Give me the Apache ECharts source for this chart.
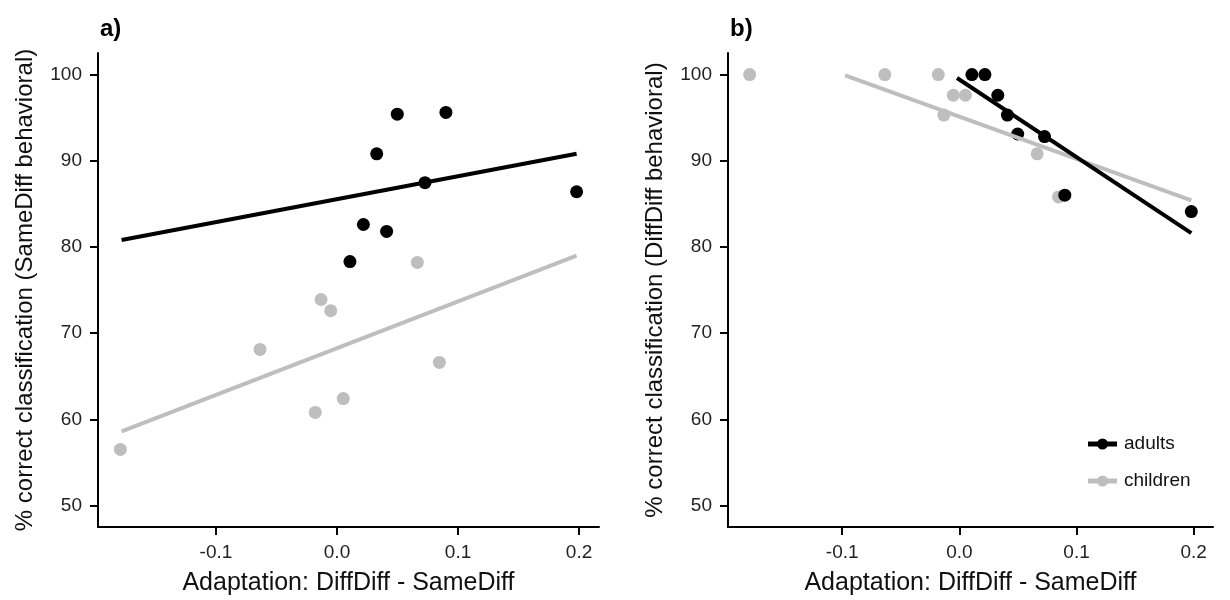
<!DOCTYPE html>
<html>
<head>
<meta charset="utf-8">
<script src="https://cdn.jsdelivr.net/npm/echarts@6/dist/echarts.min.js"></script>
<style>
  html, body { margin: 0; padding: 0; background: #fff; }
  #chart { width: 1230px; height: 600px; }
</style>
</head>
<body>
<div id="chart"></div>
<script>
// x values (adaptation) shared by both panels
var childX = [-0.179, -0.0636, -0.018, -0.0132, -0.0052, 0.0052, 0.0664, 0.0846];
var adultX = [0.0107, 0.0218, 0.0328, 0.041, 0.0498, 0.0727, 0.090, 0.198];

// panel a: SameDiff behavioral
var childA = [56.5, 68.1, 60.8, 73.9, 72.6, 62.4, 78.2, 66.6];
var adultA = [78.3, 82.6, 90.8, 81.8, 95.4, 87.45, 95.6, 86.4];

// panel b: DiffDiff behavioral
var childB = [100, 100, 100, 95.3, 97.6, 97.6, 90.8, 85.8];
var adultB = [100, 100, 97.6, 95.3, 93.1, 92.8, 86.0, 84.1];

// fitted lines, end points
var fitChildAX = [-0.178, 0.198], fitChildAY = [58.6, 79.0];
var fitAdultAX = [-0.178, 0.198], fitAdultAY = [80.8, 90.8];
var fitChildBX = [-0.0975, 0.198], fitChildBY = [99.9, 85.4];
var fitAdultBX = [-0.002, 0.198], fitAdultBY = [99.6, 81.6];

var xTicks = [-0.1, 0, 0.1, 0.2];
var yTicks = [50, 60, 70, 80, 90, 100];

var groups = ['adults', 'children'];
var xTitle = 'Adaptation: DiffDiff - SameDiff';
var yTitleA = '% correct classification (SameDiff behavioral)';
var yTitleB = '% correct classification (DiffDiff behavioral)';

var BLACK = '#000000';
var GREY = '#bebebe';
var FONT = 'Liberation Sans, Arial, sans-serif';

function zip(xs, ys) {
  return xs.map(function (x, i) { return [x, ys[i]]; });
}

function xAxisFor(idx) {
  return {
    type: 'value',
    gridIndex: idx,
    min: -0.1975,
    max: 0.2165,
    axisLine: { show: true, onZero: false, lineStyle: { color: '#000', width: 2 } },
    axisTick: { show: true, length: 8, lineStyle: { color: '#000', width: 2 }, customValues: xTicks },
    axisLabel: {
      customValues: xTicks, margin: 16, fontSize: 19, color: '#222', fontFamily: FONT,
      formatter: function (v) { return v.toFixed(1); }
    },
    splitLine: { show: false }
  };
}

function yAxisFor(idx) {
  return {
    type: 'value',
    gridIndex: idx,
    min: 47.5,
    max: 102.5,
    axisLine: { show: true, onZero: false, lineStyle: { color: '#000', width: 2 } },
    axisTick: { show: true, length: 8, lineStyle: { color: '#000', width: 2 }, customValues: yTicks },
    axisLabel: { customValues: yTicks, margin: 16, fontSize: 19, color: '#222', fontFamily: FONT },
    splitLine: { show: false }
  };
}

// points, with the fitted line drawn as a markLine on the same axes
function group(idx, xs, ys, fx, fy, color) {
  return {
    type: 'scatter', xAxisIndex: idx, yAxisIndex: idx,
    data: zip(xs, ys), symbolSize: 13, itemStyle: { color: color, opacity: 1 },
    markLine: {
      silent: true,
      symbol: 'none',
      label: { show: false },
      lineStyle: { color: color, width: 4, type: 'solid' },
      data: [[{ coord: [fx[0], fy[0]] }, { coord: [fx[1], fy[1]] }]]
    }
  };
}

// axis titles and legend as plain graphic text
function text(x, y, str, rot, size) {
  return {
    type: 'text', x: x, y: y, rotation: rot || 0, silent: true,
    style: { text: str, fontSize: size, fontFamily: FONT, fill: '#111', align: 'center', verticalAlign: 'middle' }
  };
}

function legendItem(y, name, color) {
  return [
    { type: 'rect', shape: { x: 1088, y: y - 2.5, width: 29, height: 5 }, style: { fill: color }, silent: true },
    { type: 'circle', shape: { cx: 1102.5, cy: y, r: 5.5 }, style: { fill: color }, silent: true },
    {
      type: 'text', x: 1124, y: y, silent: true,
      style: { text: name, fontSize: 19, fontFamily: FONT, fill: '#111', align: 'left', verticalAlign: 'middle' }
    }
  ];
}

var option = {
  animation: false,
  title: [
    { text: 'a)', left: 95, top: 12, textStyle: { fontSize: 24, fontWeight: 'bold', color: '#000', fontFamily: FONT } },
    { text: 'b)', left: 725, top: 12, textStyle: { fontSize: 24, fontWeight: 'bold', color: '#000', fontFamily: FONT } }
  ],
  grid: [
    { left: 98, top: 53, width: 501, height: 474 },
    { left: 728, top: 53, width: 485, height: 474 }
  ],
  xAxis: [xAxisFor(0), xAxisFor(1)],
  yAxis: [yAxisFor(0), yAxisFor(1)],
  graphic: [
    text(348.5, 583, xTitle, 0, 25),
    text(970.5, 583, xTitle, 0, 25),
    text(25, 290, yTitleA, Math.PI / 2, 24),
    text(655, 290, yTitleB, Math.PI / 2, 24)
  ].concat(legendItem(444, groups[0], BLACK), legendItem(481, groups[1], GREY)),
  series: [
    group(0, childX, childA, fitChildAX, fitChildAY, GREY),
    group(0, adultX, adultA, fitAdultAX, fitAdultAY, BLACK),
    group(1, childX, childB, fitChildBX, fitChildBY, GREY),
    group(1, adultX, adultB, fitAdultBX, fitAdultBY, BLACK)
  ]
};

var myChart = echarts.init(document.getElementById('chart'));
myChart.setOption(option);
</script>
</body>
</html>
